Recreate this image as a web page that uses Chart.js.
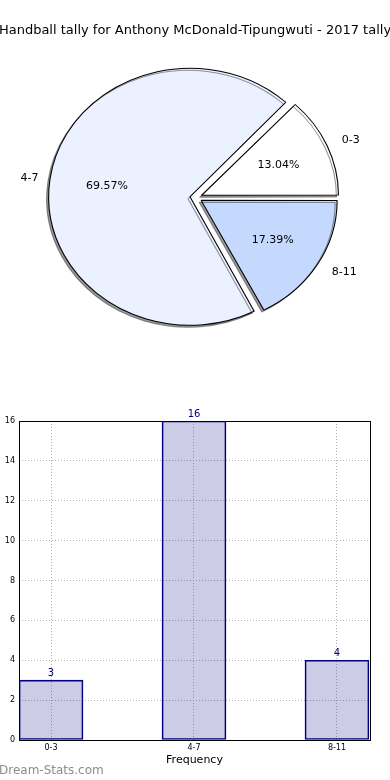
<!DOCTYPE html>
<html>
<head>
<meta charset="utf-8">
<script src="https://cdn.jsdelivr.net/npm/chart.js@4.4.0/dist/chart.umd.min.js"></script>
<style>
  html, body { margin: 0; padding: 0; background: #fff; width: 390px; height: 780px; overflow: hidden; }
  #pieWrap { position: absolute; left: 0; top: 0; width: 390px; height: 360px; }
  #barWrap { position: absolute; left: 0; top: 380px; width: 390px; height: 400px; }
</style>
</head>
<body>
<div id="pieWrap"><canvas id="pieCanvas" width="390" height="360"></canvas></div>
<div id="barWrap"><canvas id="barCanvas" width="390" height="400"></canvas></div>
<script>
const chartTitle = 'Handball tally for Anthony McDonald-Tipungwuti - 2017 tally';
const categories = ['0-3', '4-7', '8-11'];
const tally = [3, 16, 4];
const sliceColors = ['#ffffff', '#ebf1ff', '#c5d9ff'];
const yTicks = [0, 2, 4, 6, 8, 10, 12, 14, 16];
const xTitle = 'Frequency';
const yTitle = 'Number of Games';
const watermark = 'Dream-Stats.com';

const FONT = "'DejaVu Sans', sans-serif";
const total = tally.reduce((a, b) => a + b, 0);
// draw order 4-7, 0-3, 8-11 (clockwise), so 8-11's shadow lands last like the original
const pieOrder = [1, 0, 2];
const stretchX = 1.1;
const sliceOffset = 22;

const pieExtras = {
  id: 'pieExtras',
  beforeDatasetsDraw(chart) {
    const c = chart.getDatasetMeta(0).data[0];
    const ctx = chart.ctx;
    ctx.save();
    ctx.translate(c.x, c.y);
    ctx.scale(stretchX, 1);
    ctx.translate(-c.x, -c.y);
    ctx.shadowColor = 'rgba(40,40,45,0.48)';
    ctx.shadowOffsetX = -2;
    ctx.shadowOffsetY = 2;
    ctx.shadowBlur = 0;
  },
  afterDatasetsDraw(chart) {
    const ctx = chart.ctx;
    ctx.restore();
    const arcs = chart.getDatasetMeta(0).data;
    ctx.save();
    ctx.fillStyle = '#000';
    ctx.font = '11px ' + FONT;
    ctx.textBaseline = 'middle';
    arcs.forEach((a, k) => {
      const idx = pieOrder[k];
      const mid = (a.startAngle + a.endAngle) / 2;
      const off = sliceOffset / 4;
      const r = a.outerRadius;
      const cs = Math.cos(mid), sn = Math.sin(mid);
      const lx = a.x + stretchX * cs * (off + 1.13 * r);
      const ly = a.y + sn * (off + 1.13 * r);
      ctx.textAlign = cs >= 0 ? 'left' : 'right';
      ctx.fillText(categories[idx], lx, ly);
      const px = a.x + stretchX * cs * (off + 0.62 * r);
      const py = a.y + sn * (off + 0.62 * r);
      ctx.textAlign = 'center';
      ctx.fillText((tally[idx] / total * 100).toFixed(2) + '%', px, py);
    });
    ctx.font = '13px ' + FONT;
    ctx.textAlign = 'center';
    ctx.fillText(chartTitle, 195, 31);
    ctx.restore();
  }
};

new Chart(document.getElementById('pieCanvas'), {
  type: 'pie',
  data: {
    labels: pieOrder.map(i => categories[i]),
    datasets: [{
      data: pieOrder.map(i => tally[i]),
      backgroundColor: pieOrder.map(i => sliceColors[i]),
      borderColor: '#000',
      borderWidth: 1,
      offset: sliceOffset
    }]
  },
  options: {
    responsive: false,
    animation: false,
    devicePixelRatio: 1,
    radius: 123,
    rotation: 90 + 360 * tally[2] / total,
    layout: { padding: { left: 2, right: 0, top: 35, bottom: 0 } },
    plugins: { legend: { display: false }, tooltip: { enabled: false } }
  },
  plugins: [pieExtras]
});

const barExtras = {
  id: 'barExtras',
  afterDraw(chart) {
    const ctx = chart.ctx;
    const a = chart.chartArea;
    ctx.save();
    ctx.strokeStyle = '#000';
    ctx.lineWidth = 1;
    ctx.strokeRect(Math.round(a.left) + 0.5, Math.round(a.top) + 0.5,
      Math.round(a.right - a.left), Math.round(a.bottom - a.top));
    // value labels
    ctx.fillStyle = '#000080';
    ctx.font = '10px ' + FONT;
    ctx.textAlign = 'center';
    ctx.textBaseline = 'bottom';
    chart.getDatasetMeta(0).data.forEach((b, i) => {
      ctx.fillText(String(tally[i]), b.x, b.y - 2);
    });
    // axis titles
    ctx.fillStyle = '#000';
    ctx.font = '11px ' + FONT;
    ctx.textBaseline = 'middle';
    ctx.fillText(xTitle, (a.left + a.right) / 2, 380);
    ctx.save();
    ctx.translate(-1, (a.top + a.bottom) / 2);
    ctx.rotate(-Math.PI / 2);
    ctx.textBaseline = 'alphabetic';
    ctx.fillText(yTitle, 0, 0);
    ctx.restore();
    // watermark
    ctx.fillStyle = '#8c8c8c';
    ctx.font = '12px ' + FONT;
    ctx.textAlign = 'left';
    ctx.fillText(watermark, -1, 391);
    ctx.restore();
  }
};

new Chart(document.getElementById('barCanvas'), {
  type: 'bar',
  data: {
    datasets: [{
      data: categories.map((c, i) => ({ x: i, y: tally[i] })),
      backgroundColor: 'rgba(0,0,128,0.2)',
      borderColor: '#000080',
      borderWidth: 1,
      borderSkipped: false,
      barThickness: 64
    }]
  },
  options: {
    responsive: false,
    animation: false,
    devicePixelRatio: 1,
    layout: { padding: { left: 0, right: 20, top: 41, bottom: 0 } },
    plugins: { legend: { display: false }, tooltip: { enabled: false } },
    scales: {
      x: {
        type: 'linear',
        offset: false,
        min: -0.224,
        max: 2.231,
        afterBuildTicks: s => { s.ticks = categories.map((c, i) => ({ value: i })); },
        afterFit: s => { s.height = 40; },
        ticks: {
          callback: v => categories[v],
          font: { size: 8, family: FONT },
          color: '#000',
          padding: 3,
          maxRotation: 0,
          autoSkip: false
        },
        grid: { offset: false, color: '#b4b4b4', lineWidth: 1, tickLength: 0 },
        border: { display: false, dash: [1, 2] }
      },
      y: {
        min: 0,
        max: 16,
        afterBuildTicks: s => { s.ticks = yTicks.map(v => ({ value: v })); },
        afterFit: s => { s.width = 19; },
        ticks: {
          font: { size: 8, family: FONT },
          color: '#000',
          padding: 4
        },
        grid: { color: '#b4b4b4', lineWidth: 1, tickLength: 0 },
        border: { display: false, dash: [1, 2] }
      }
    }
  },
  plugins: [barExtras]
});
</script>
</body>
</html>
